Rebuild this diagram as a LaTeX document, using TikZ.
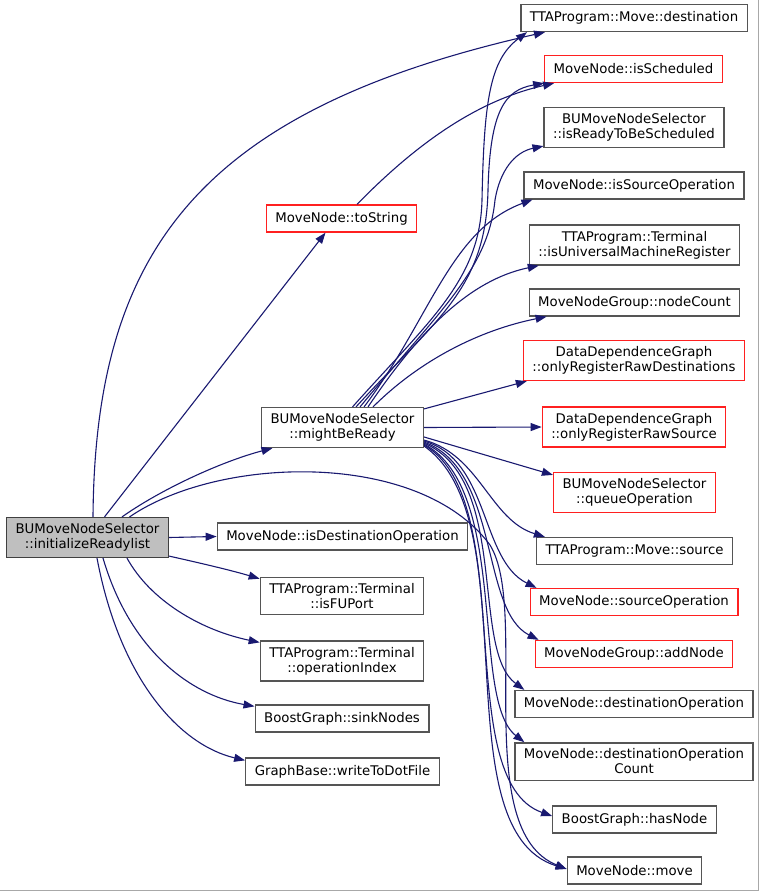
\documentclass[tikz,border=0pt]{standalone}
\usepackage{fontspec}
\setmainfont{DejaVu Sans}
\usepackage{tikz}
\usetikzlibrary{arrows.meta}
\definecolor{CgEdge}{HTML}{191970}
\definecolor{CgBorder}{HTML}{555555}
\definecolor{CgRed}{HTML}{FF2020}
\definecolor{CgRootFill}{HTML}{BFBFBF}
\definecolor{CgRootLine}{HTML}{404040}
\definecolor{CgFrame}{HTML}{A8A8A8}
\tikzset{
  cg node/.style={
    draw=CgBorder, fill=white, line width=1.3pt, align=center,
    inner xsep=9pt, inner ysep=6pt, minimum height=27pt,
    font=\fontsize{13.3}{15}\selectfont
  },
  cg red/.style={cg node, draw=CgRed},
  cg root/.style={cg node, fill=CgRootFill, draw=CgRootLine},
  cg arr/.style={-{Triangle[length=11pt,width=8pt]}, CgEdge, line width=1.1pt}
}
\begin{document}
\begin{tikzpicture}[x=1pt, y=-1pt]
  \useasboundingbox (0,0) rectangle (759,891);
  \draw[CgFrame, line width=1pt] (0,890) -- (758,890) -- (758,0);

  % caller and its direct callees
  \node[cg root] (init) at (87.5,537.5) {BUMoveNodeSelector\\::initializeReadylist};
  \node[cg red] (toStr) at (341.5,218.5) {MoveNode::toString};
  \node[cg node] (mightReady) at (342.5,427.5) {BUMoveNodeSelector\\::mightBeReady};
  \node[cg node] (isDestOp) at (342.5,536.5) {MoveNode::isDestinationOperation};
  \node[cg node] (isFUPort) at (342,596) {TTAProgram::Terminal\\::isFUPort};
  \node[cg node] (opIndex) at (342,661) {TTAProgram::Terminal\\::operationIndex};
  \node[cg node] (sinkNodes) at (342,718.5) {BoostGraph::sinkNodes};
  \node[cg node] (writeDot) at (342.5,771.5) {GraphBase::writeToDotFile};

  % right column
  \node[cg node] (mvDest) at (634,18) {TTAProgram::Move::destination};
  \node[cg red] (isSched) at (633.5,69) {MoveNode::isScheduled};
  \node[cg node] (readySched) at (634,127.5) {BUMoveNodeSelector\\::isReadyToBeScheduled};
  \node[cg node] (isSrcOp) at (634,185.5) {MoveNode::isSourceOperation};
  \node[cg node] (isUMR) at (634.5,245) {TTAProgram::Terminal\\::isUniversalMachineRegister};
  \node[cg node] (nodeCount) at (634.5,302.5) {MoveNodeGroup::nodeCount};
  \node[cg red] (rawDests) at (634,360.5) {DataDependenceGraph\\::onlyRegisterRawDestinations};
  \node[cg red] (rawSrc) at (634,427) {DataDependenceGraph\\::onlyRegisterRawSource};
  \node[cg red] (queueOp) at (634.5,492.5) {BUMoveNodeSelector\\::queueOperation};
  \node[cg node] (mvSrc) at (634.5,551) {TTAProgram::Move::source};
  \node[cg red] (srcOp) at (634,602) {MoveNode::sourceOperation};
  \node[cg red] (addNode) at (634,654) {MoveNodeGroup::addNode};
  \node[cg node] (destOp) at (634,704) {MoveNode::destinationOperation};
  \node[cg node] (destOpCnt) at (634,761.5) {MoveNode::destinationOperation\\Count};
  \node[cg node] (hasNode) at (634.5,819.5) {BoostGraph::hasNode};
  \node[cg node] (mvMove) at (634.5,870.5) {MoveNode::move};

  % edges out of initializeReadylist
  \draw[cg arr] ([xshift=5.5pt]init.north) .. controls (95,250) and (200,110) .. ([xshift=-89pt]mvDest.south);
  \draw[cg arr] ([xshift=17pt]init.north) -- ([xshift=-16pt]toStr.south);
  \draw[cg arr] ([xshift=34.5pt]init.north) .. controls (160,490) and (220,462) .. ([xshift=-70pt]mightReady.south);
  \draw[cg arr] ([xshift=42pt]init.north) .. controls (220,455) and (420,450) .. (490,545)
    .. controls (530,610) and (470,830) .. ([yshift=1.5pt]mvMove.west);
  \draw[cg arr] (init.east) -- (isDestOp.west);
  \draw[cg arr] ([yshift=2pt]init.south east) .. controls (200,563) and (230,570) .. ([yshift=-2pt]isFUPort.north west);
  \draw[cg arr] ([xshift=39.5pt]init.south) .. controls (150,600) and (200,630) .. ([yshift=-2pt]opIndex.north west);
  \draw[cg arr] ([xshift=15.5pt]init.south) .. controls (130,650) and (190,695) .. ([yshift=-2pt]sinkNodes.north west);
  \draw[cg arr] ([xshift=9.5pt]init.south) .. controls (120,680) and (180,745) .. ([yshift=-3pt]writeDot.north west);

  \draw[cg arr] ([xshift=15.5pt]toStr.north) .. controls (420,140) and (480,100) .. ([xshift=10pt]isSched.south west);

  % edges out of mightBeReady, upwards
  \draw[cg arr] ([xshift=10pt]mightReady.north) .. controls (430,320) and (480,280) .. (482,200)
    .. controls (484,100) and (490,60) .. ([xshift=-107pt]mvDest.south);
  \draw[cg arr] ([xshift=13.5pt]mightReady.north) .. controls (435,320) and (486,290) .. (488,190)
    .. controls (490,110) and (505,90) .. (isSched.south west);
  \draw[cg arr] ([xshift=17.5pt]mightReady.north) .. controls (440,310) and (488,270) .. (495,200)
    .. controls (500,170) and (515,152) .. ([yshift=2pt]readySched.south west);
  \draw[cg arr] ([xshift=21.5pt]mightReady.north) .. controls (430,320) and (450,230) .. ([xshift=9pt]isSrcOp.south west);
  \draw[cg arr] ([xshift=25.5pt]mightReady.north) .. controls (420,330) and (470,280) .. ([xshift=10pt]isUMR.south west);
  \draw[cg arr] ([xshift=30.5pt]mightReady.north) .. controls (420,360) and (480,330) .. ([xshift=18pt]nodeCount.south west);
  \draw[cg arr] ([yshift=-2pt]mightReady.north east) -- ([xshift=4pt]rawDests.south west);
  \draw[cg arr] (mightReady.east) -- (rawSrc.west);
  \draw[cg arr] ([yshift=-9.5pt]mightReady.east) -- ([yshift=-3pt]queueOp.north west);

  % edges out of mightBeReady, downwards
  \draw[cg arr] ([yshift=8pt]mightReady.south east) .. controls (480,455) and (490,520) .. ([xshift=9pt]mvSrc.north west);
  \draw[cg arr] ([yshift=7pt]mightReady.south east) .. controls (490,460) and (480,560) .. ([xshift=7pt]srcOp.north west);
  \draw[cg arr] ([yshift=6pt]mightReady.south east) .. controls (500,470) and (480,610) .. ([xshift=4pt]addNode.north west);
  \draw[cg arr] ([yshift=5pt]mightReady.south east) .. controls (510,480) and (470,650) .. ([xshift=10pt]destOp.north west);
  \draw[cg arr] ([yshift=4pt]mightReady.south east) .. controls (510,490) and (470,700) .. ([xshift=10pt]destOpCnt.north west);
  \draw[cg arr] ([yshift=3pt]mightReady.south east) .. controls (520,500) and (450,780) .. ([yshift=3.5pt]hasNode.west);
  \draw[cg arr] ([yshift=2pt]mightReady.south east) .. controls (530,520) and (440,830) .. ([yshift=1.5pt]mvMove.west);
\end{tikzpicture}
\end{document}
